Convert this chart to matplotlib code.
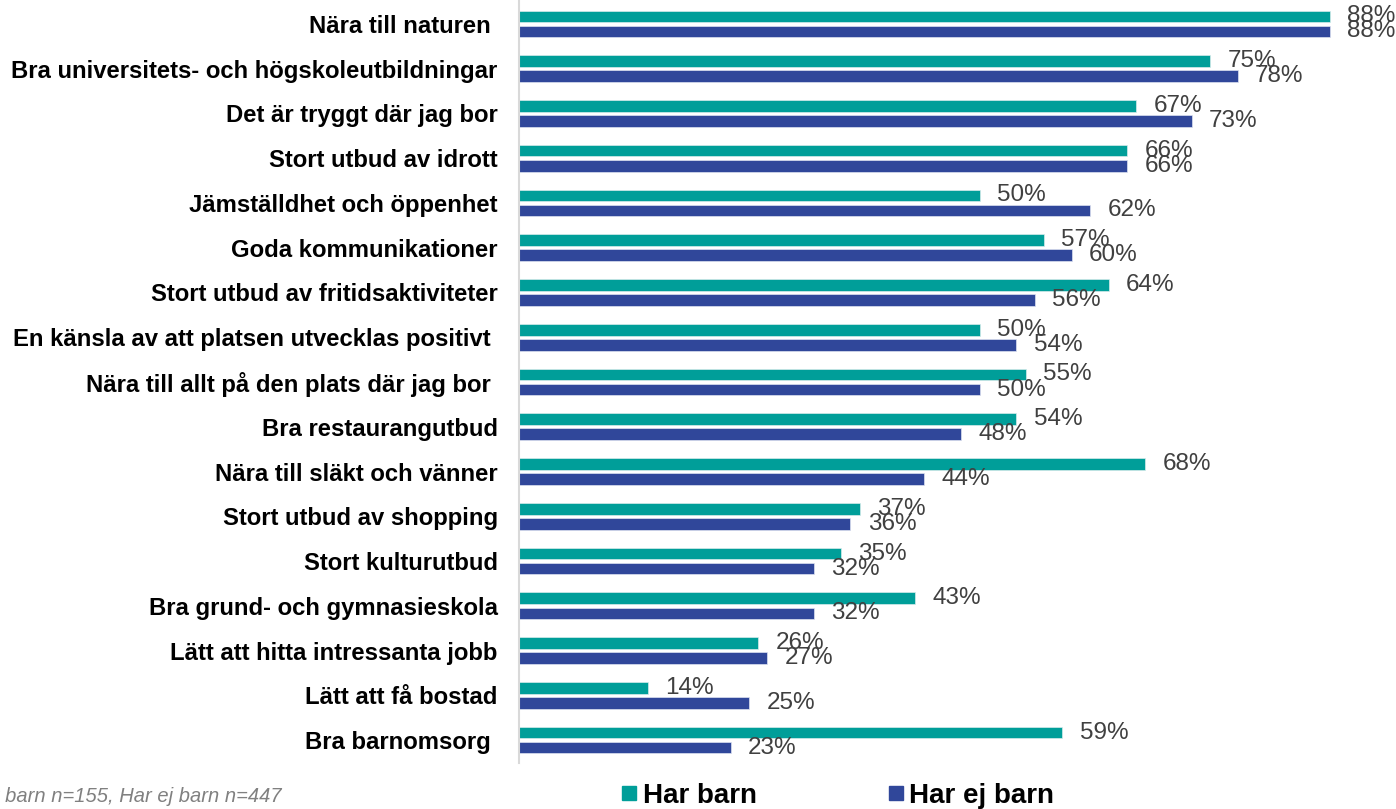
import matplotlib
matplotlib.use('Agg')
import matplotlib.pyplot as plt
from matplotlib.lines import Line2D
import numpy as np

plt.rcParams['font.family'] = ['Liberation Sans', 'DejaVu Sans']

categories = ['Nära till naturen ',
              'Bra universitets- och högskoleutbildningar',
              'Det är tryggt där jag bor',
              'Stort utbud av idrott',
              'Jämställdhet och öppenhet',
              'Goda kommunikationer',
              'Stort utbud av fritidsaktiviteter',
              'En känsla av att platsen utvecklas positivt ',
              'Nära till allt på den plats där jag bor ',
              'Bra restaurangutbud',
              'Nära till släkt och vänner',
              'Stort utbud av shopping',
              'Stort kulturutbud',
              'Bra grund- och gymnasieskola',
              'Lätt att hitta intressanta jobb',
              'Lätt att få bostad',
              'Bra barnomsorg ']
har_barn = [88, 75, 67, 66, 50, 57, 64, 50, 55, 54, 68, 37, 35, 43, 26, 14, 59]
har_ej_barn = [88, 78, 73, 66, 62, 60, 56, 54, 50, 48, 44, 36, 32, 32, 27, 25, 23]
series_names = ['Har barn', 'Har ej barn']
footnote = 'Har barn n=155, Har ej barn n=447'

teal = '#009E99'
blue = '#30479A'
label_col = '#404040'

fig = plt.figure(figsize=(13.96, 8.09), dpi=100)
left = 518.5 / 1396
ax = fig.add_axes([left, 1 - 762.5 / 809, 1 - left, 761 / 809])

y = np.arange(len(categories))
h = 0.26
off = 0.168
ax.barh(y - off, har_barn, height=h, color=teal, edgecolor='#d8ecec', linewidth=0.5)
ax.barh(y + off, har_ej_barn, height=h, color=blue, edgecolor='#dde2f0', linewidth=0.5)

# value labels just right of each bar
for i in range(len(categories)):
    ax.annotate(f'{har_barn[i]}%', (har_barn[i], y[i] - off), xytext=(12.5, 0),
                textcoords='offset points', va='center', ha='left',
                fontsize=17.5, color=label_col)
    ax.annotate(f'{har_ej_barn[i]}%', (har_ej_barn[i], y[i] + off), xytext=(12.5, 0),
                textcoords='offset points', va='center', ha='left',
                fontsize=17.5, color=label_col)

ax.set_xlim(0, (1396 - 518.5) / 9.22)
ax.set_ylim(len(categories) - 0.5, -0.5)
ax.set_yticks(y)
ax.set_yticklabels(categories, fontsize=17.2, fontweight='bold', color='black')
ax.tick_params(axis='y', length=0, pad=15)
ax.set_xticks([])
for s in ['top', 'right', 'bottom']:
    ax.spines[s].set_visible(False)
ax.spines['left'].set_color('#D9D9D9')
ax.spines['left'].set_linewidth(1.5)

handles = [Line2D([], [], marker='s', linestyle='none', markersize=10, color=teal),
           Line2D([], [], marker='s', linestyle='none', markersize=10, color=blue)]
fig.legend(handles, series_names, loc='center', bbox_to_anchor=(836 / 1396, 1 - 796 / 809),
           ncol=2, frameon=False, prop={'weight': 'bold', 'size': 20},
           handletextpad=0.1, columnspacing=4.6, handlelength=0.8)

fig.text(282 / 1396, 1 - 796 / 809, footnote, ha='right', va='center',
         fontsize=14.5, style='italic', color='#808080')

fig.savefig('out.png', dpi=100)
